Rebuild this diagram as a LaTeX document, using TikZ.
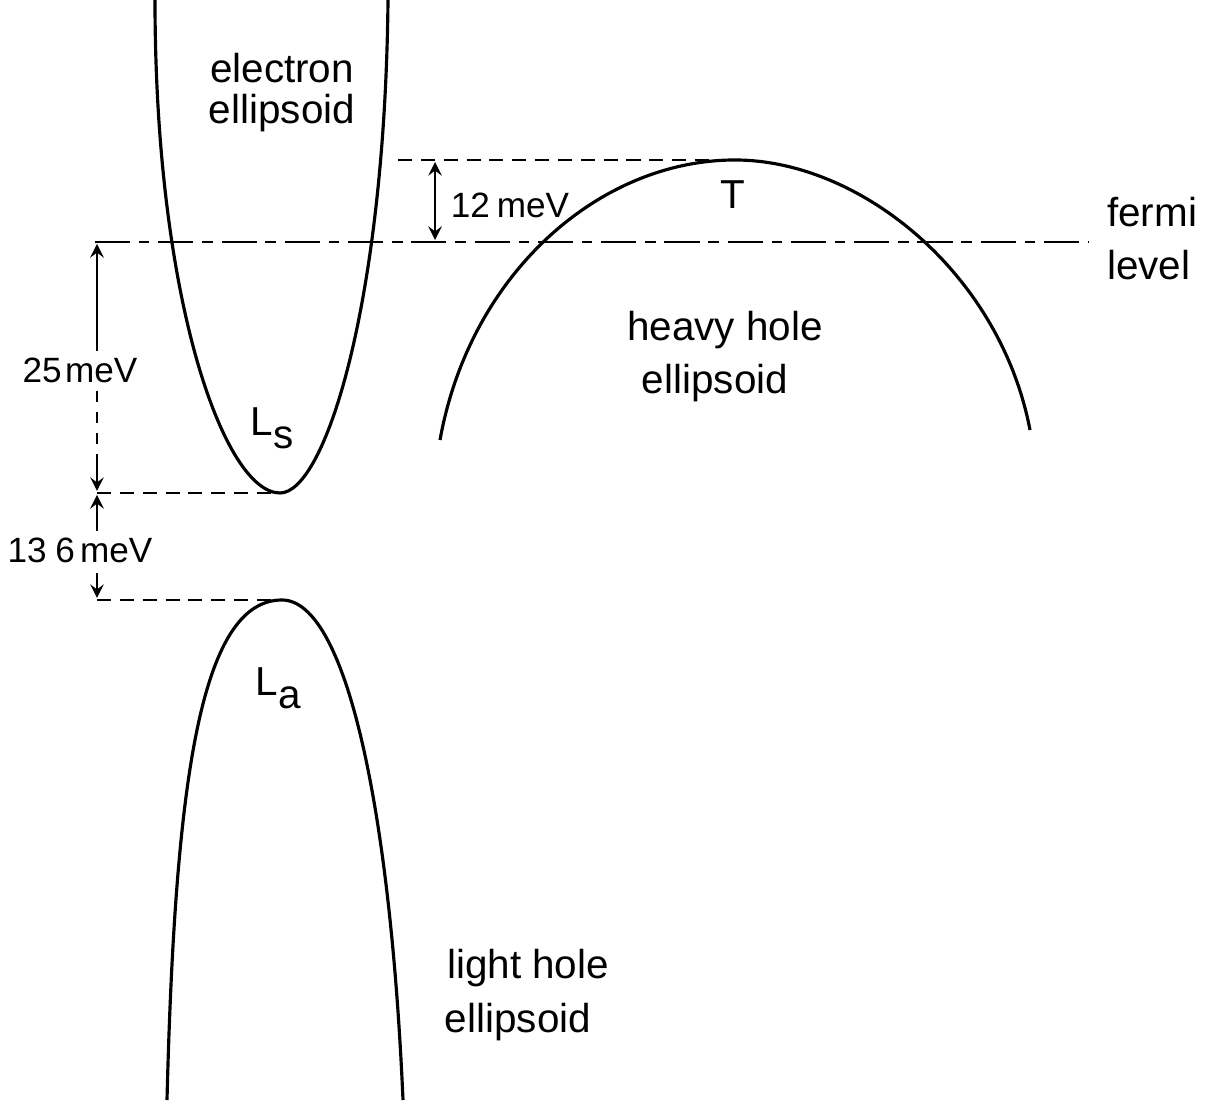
\documentclass[tikz,border=0pt]{standalone}
\usepackage{fontspec}
\setmainfont{Liberation Sans}
\tikzset{
  band/.style={line width=0.9pt},
  guide/.style={line width=0.8pt, dash pattern=on 4pt off 2.5pt},
  fermiline/.style={line width=0.8pt, dash pattern=on 10pt off 2.5pt on 3pt off 2.5pt},
  dimarrow/.style={line width=0.7pt, >=stealth},
  txt/.style={font=\fontsize{11.5}{13}\selectfont, inner sep=1pt},
  dimtxt/.style={font=\fontsize{10}{12}\selectfont, inner sep=1pt},
}
\begin{document}
\begin{tikzpicture}[scale=1.0]
\useasboundingbox (0,0) rectangle (12.07,11.03);
% band edges
\coordinate (Ls) at (2.80,6.10);
\coordinate (La) at (2.82,5.03);
\coordinate (T) at (7.35,9.43);
\coordinate (fl) at (0.95,8.61);
\coordinate (fr) at (10.88,8.61);
% electron ellipsoid
\draw[band] (1.55,11.03) .. controls (1.55,8.0) and (2.25,6.10) .. (Ls)
  .. controls (3.25,6.10) and (3.85,8.0) .. (3.88,11.03);
% light hole ellipsoid
\draw[band] (1.67,0.03) .. controls (1.75,3.2) and (2.0,5.03) .. (La)
  .. controls (3.45,5.03) and (3.9,3.0) .. (4.03,0.03);
% heavy hole ellipsoid
\draw[band] (4.40,6.63) .. controls (4.7,8.3) and (6.0,9.43) .. (T)
  .. controls (8.6,9.43) and (10.0,8.3) .. (10.30,6.73);
% levels
\draw[fermiline] (fl) -- (fr);
\draw[guide] (3.98,9.43) -- (T);
\draw[guide] (0.97,6.10) -- (Ls);
\draw[guide] (0.97,5.03) -- (La);
% energy gaps
\node[dimtxt] (g12) at (5.10,8.98) {12\hspace{0.2em}meV};
\draw[dimarrow,<->] (4.35,9.41) -- (4.35,8.63);
\node[dimtxt, fill=white] (g25) at (0.80,7.33) {25\hspace{0.1em}meV};
\draw[dimarrow,->] (0.97,7.52) -- (0.97,8.59);
\draw[dimarrow, dashed] (0.97,7.12) -- (0.97,6.45);
\draw[dimarrow,->] (0.97,6.45) -- (0.97,6.12);
\node[dimtxt] (g136) at (0.80,5.53) {13\hspace{0.25em}6\hspace{0.15em}meV};
\draw[dimarrow,->] (0.97,5.72) -- (0.97,6.08);
\draw[dimarrow,->] (0.97,5.30) -- (0.97,5.05);
% labels
\node[txt] (el1) at (2.82,10.35) {electron};
\node[txt] (el2) at (2.82,9.90) {ellipsoid};
\node[txt] (hh1) at (7.25,7.73) {heavy hole};
\node[txt] (hh2) at (7.15,7.20) {ellipsoid};
\node[txt] (lh1) at (5.28,1.35) {light hole};
\node[txt] (lh2) at (5.18,0.81) {ellipsoid};
\node[txt] (ls) at (2.72,6.75) {L\raisebox{-0.6ex}{s}};
\node[txt] (la) at (2.78,4.15) {L\raisebox{-0.6ex}{a}};
\node[txt] (tt) at (7.33,9.08) {T};
\node[txt, anchor=west] (f1) at (11.03,8.91) {fermi};
\node[txt, anchor=west] (f2) at (11.03,8.38) {level};
\end{tikzpicture}
\end{document}
